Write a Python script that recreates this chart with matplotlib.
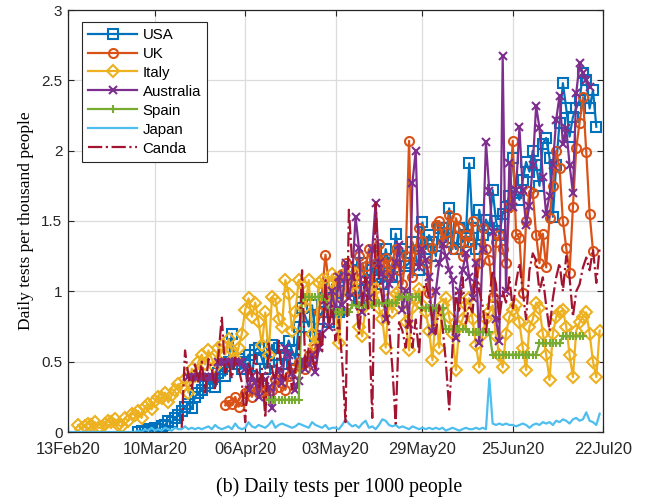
import numpy as np
import pandas as pd
import matplotlib
matplotlib.use("Agg")
import matplotlib.pyplot as plt

# ---------------- data (daily tests per 1000 people) ----------------
japan_start = "2020-02-13"
japan = ([0.0] * 21 +
         [0.01, 0.0, 0.02, 0.01, 0.03, 0.01, 0.02, 0.01, 0.03, 0.02, 0.01, 0.03, 0.02, 0.02, 0.04, 0.02, 0.03, 0.02, 0.03, 0.02] +
         [0.03, 0.04, 0.02, 0.05, 0.03, 0.02, 0.03, 0.04, 0.02, 0.06, 0.03, 0.02, 0.03, 0.07, 0.04, 0.03, 0.05, 0.04, 0.03, 0.05] +
         [0.08, 0.03, 0.05, 0.06, 0.05, 0.04, 0.03, 0.04, 0.06, 0.05, 0.04, 0.03, 0.07, 0.05, 0.04, 0.03, 0.05, 0.02, 0.03, 0.03] +
         [0.02, 0.05, 0.09, 0.06, 0.04, 0.05, 0.03, 0.06, 0.08, 0.03, 0.04, 0.02, 0.05, 0.09, 0.08, 0.05, 0.04, 0.05, 0.03, 0.04] +
         [0.03, 0.02, 0.04, 0.03, 0.02, 0.03, 0.02, 0.03, 0.02, 0.03, 0.02, 0.03, 0.01, 0.02, 0.03, 0.02, 0.01, 0.02, 0.03, 0.02] +
         [0.02, 0.03, 0.02, 0.03, 0.02, 0.38, 0.06, 0.05, 0.06, 0.05, 0.06, 0.05, 0.05, 0.04, 0.05, 0.06, 0.05, 0.03, 0.05, 0.06] +
         [0.05, 0.07, 0.06, 0.07, 0.05, 0.08, 0.07, 0.09, 0.08, 0.06, 0.09, 0.10, 0.08, 0.09, 0.14, 0.08, 0.07, 0.05, 0.13])

italy_start = "2020-02-16"
italy = [0.05, 0.02, 0.04, 0.06, 0.05, 0.07, 0.03, 0.03, 0.06, 0.08, 0.07, 0.09, 0.05, 0.04, 0.10,
         0.08, 0.13, 0.12, 0.15, 0.10, 0.18, 0.20, 0.16, 0.22, 0.25, 0.24, 0.28, 0.21, 0.26,
         0.30, 0.34, 0.31, 0.38, 0.28, 0.45, 0.40, 0.50, 0.55, 0.48, 0.58, 0.52, 0.46, 0.60,
         0.62, 0.55, 0.66, 0.58, 0.52, 0.60, 0.70, 0.87, 0.95, 0.82, 0.92, 0.78, 0.62, 0.85,
         0.55, 0.96, 0.94, 0.80, 0.75, 1.08, 0.98, 0.72, 0.85, 1.08, 1.05, 0.89, 1.08, 0.70,
         0.62, 1.06, 1.08, 0.95, 1.06, 1.12, 0.90, 0.63, 0.95, 1.00, 1.15, 1.05, 1.12, 0.75,
         0.68, 0.90, 1.00, 0.95, 1.02, 0.88, 0.80, 0.60, 0.95, 0.85, 0.98, 1.00, 0.92, 0.78,
         0.58, 0.88, 0.95, 1.02, 0.90, 0.85, 0.72, 0.51, 0.85, 0.60, 0.90, 0.95, 0.82, 0.70,
         0.44, 0.75, 0.80, 0.90, 0.95, 0.80, 0.62, 0.46, 0.70, 0.80, 0.85, 0.90, 0.68, 0.55,
         0.46, 0.70, 0.82, 0.87, 0.90, 0.78, 0.60, 0.44, 0.75, 0.80, 0.92, 0.88, 0.70, 0.55,
         0.37, 0.70, 0.82, 0.85, 0.87, 0.75, 0.55, 0.39, 0.72, 0.78, 0.82, 0.85, 0.70, 0.50,
         0.39, 0.72]

usa_start = "2020-03-05"
usa = [0.0, 0.01, 0.0, 0.02, 0.01, 0.03, 0.02,
       0.04, 0.05, 0.08, 0.07, 0.10, 0.12, 0.15,
       0.18, 0.20, 0.17, 0.25, 0.28, 0.30, 0.33,
       0.35, 0.38, 0.32, 0.42, 0.45, 0.40, 0.50,
       0.70, 0.48, 0.52, 0.45, 0.50, 0.55, 0.40,
       0.58, 0.60, 0.52, 0.45, 0.50, 0.62, 0.55,
       0.60, 0.48, 0.55, 0.65, 0.58, 0.52, 0.75,
       0.88, 0.82, 0.75, 0.90, 0.68, 0.80, 0.85,
       0.95, 0.78, 1.05, 0.92, 0.85, 1.00, 1.10,
       1.05, 1.15, 1.00, 0.95, 1.20, 1.08, 1.00,
       1.15, 1.25, 1.10, 1.05, 1.30, 1.20, 1.10,
       1.41, 1.25, 1.30, 1.18, 1.20, 1.35, 1.25,
       1.15, 1.49, 1.30, 1.40, 1.35, 1.25, 1.45,
       1.45, 1.35, 1.59, 1.38, 1.30, 1.45, 1.35,
       1.40, 1.91, 1.45, 1.30, 1.58, 1.40, 1.51,
       1.45, 1.72, 1.50, 1.40, 1.55, 1.60, 1.68,
       1.95, 1.70, 1.65, 1.79, 1.92, 1.85, 2.00,
       1.90, 1.75, 2.05, 2.09, 1.95, 1.53, 1.90,
       2.20, 2.48, 2.30, 2.10, 2.24, 2.30, 2.36,
       2.55, 2.50, 2.30, 2.43, 2.17]

uk_start = "2020-03-31"
uk = [0.19, 0.22, 0.20, 0.25, 0.18, 0.22, 0.28,
      0.30, 0.25, 0.32, 0.28, 0.35, 0.30, 0.26,
      0.30, 0.38, 0.32, 0.35, 0.30, 0.40, 0.45,
      0.42, 0.50, 0.48, 0.45, 0.55, 0.52, 0.60,
      0.85, 1.00, 1.26, 1.05, 0.95, 1.10, 1.00,
      1.12, 1.20, 1.05, 1.15, 1.00, 1.25, 1.10,
      1.18, 1.30, 1.05, 1.20, 1.34, 1.15, 1.24,
      1.10, 1.20, 1.30, 1.15, 1.05, 1.25, 2.07,
      1.10, 1.30, 1.45, 1.36, 1.20, 0.99, 1.31,
      1.47, 1.50, 1.35, 1.42, 1.54, 1.30, 1.52,
      1.45, 1.25, 1.40, 1.35, 1.50, 1.03, 1.20,
      1.45, 1.30, 1.22, 0.96, 1.35, 1.40, 1.30,
      1.20, 1.60, 2.07, 1.41, 1.38, 0.99,
      1.50, 1.71, 1.70, 1.40, 1.20, 1.41, 1.17, 1.52, 1.75, 2.00, 1.88,
      1.50, 1.31, 1.13, 1.60, 2.02, 2.20, 2.38, 1.99, 1.55, 1.29]

australia_start = "2020-03-20"
australia = [0.39, 0.39, 0.39, 0.39, 0.39, 0.39, 0.39, 0.39, 0.39,
             0.50, 0.50, 0.50, 0.50, 0.50, 0.50, 0.50, 0.50,
             0.45, 0.30, 0.40, 0.35, 0.25, 0.40, 0.37, 0.32, 0.17, 0.40,
             0.45, 0.35, 0.60, 0.55, 0.42, 0.30, 0.36, 0.51, 0.45, 0.48,
             0.55, 0.43, 0.60, 0.70, 0.94, 0.75, 1.00, 0.85, 1.10,
             0.90, 1.20, 0.95, 1.10, 1.53, 1.31, 0.85, 1.08, 0.95, 1.30,
             1.63, 1.20, 1.12, 0.80, 1.05, 1.10, 1.20, 1.33, 0.87, 1.00,
             0.77, 1.77, 2.00, 1.17, 1.30, 1.22, 1.10, 0.72, 1.00, 1.20,
             1.34, 1.25, 1.15, 1.08, 0.67, 1.00, 1.15, 1.27,
             1.10, 0.95, 1.20, 0.63, 1.30, 2.06, 1.71,
             1.42, 0.80, 0.65, 2.67, 1.00, 1.91, 1.60,
             1.72, 2.17, 1.72, 1.47, 1.61, 1.90, 2.32,
             2.16, 1.81, 1.55, 1.68, 1.90, 2.22, 2.39,
             2.05, 2.16, 1.90, 1.70, 2.41, 2.62, 2.55,
             2.50, 2.45]

spain_start = "2020-04-13"
spain = ([0.23] * 10 + [0.96] * 8 + [0.85] * 7 + [0.90] * 7 + [0.92] * 7 +
         [0.96] * 7 + [0.88] * 7 + [0.73] * 7 + [0.71] * 7 + [0.55] * 14 +
         [0.63] * 7 + [0.68] * 7)

canada_start = "2020-03-18"
canada = [0.03, 0.58, 0.40, 0.30, 0.48, 0.35, 0.50, 0.28, 0.52,
          0.45, 0.30, 0.55, 0.82, 0.42, 0.50, 0.38,
          0.53, 0.45, 0.35, 0.07, 0.50, 0.40, 0.55,
          0.30, 0.45, 0.10, 0.63, 0.45, 0.35, 0.65,
          0.40, 0.37, 0.50, 0.30, 0.45, 0.55, 1.15,
          0.44, 0.60, 0.53, 0.45, 0.70, 0.58, 1.08,
          0.74, 0.90, 0.65, 0.80, 0.50, 0.07, 1.58,
          1.20, 1.00, 0.70, 0.95, 1.10, 0.80, 0.10,
          1.63, 1.10, 0.95, 0.87, 0.75, 0.46, 0.06,
          0.78, 0.72, 0.60, 0.85, 0.60, 0.80, 0.55,
          1.00, 1.06, 0.95, 0.80, 0.70, 0.90, 0.75,
          0.50, 0.16, 0.60, 0.99, 0.85, 1.10, 0.77,
          0.90, 0.85, 1.17, 1.00, 0.90, 0.70, 0.95,
          1.15, 1.05, 0.80, 1.00, 0.92, 1.10, 0.87,
          1.06, 1.20, 1.00, 0.80, 1.15, 1.27, 1.22,
          1.00, 1.10, 0.90, 0.72, 0.95, 1.10, 1.20,
          1.00, 1.25, 1.10, 0.82, 1.00, 1.05, 1.17,
          1.24, 1.15, 1.30, 1.06, 1.31]

series_names = ["USA", "UK", "Italy", "Australia", "Spain", "Japan", "Canda"]
xtick_dates = ["2020-02-13", "2020-03-10", "2020-04-06", "2020-05-03",
               "2020-05-29", "2020-06-25", "2020-07-22"]
ytick_vals = [0, 0.5, 1, 1.5, 2, 2.5, 3]
ytick_labels = ["0", "0.5", "1", "1.5", "2", "2.5", "3"]
ylabel_text = "Daily tests per thousand people"
caption_text = "(b) Daily tests per 1000 people"

# ---------------- plotting ----------------
def dates_for(start, vals):
    return pd.date_range(start, periods=len(vals), freq="D")

fig = plt.figure(figsize=(6.52, 5.01), dpi=100)
ax = fig.add_axes([68 / 652, 1 - 432 / 501, 535 / 652, 422 / 501])

lw = 1.6
ms = 6.5
mew = 1.5
specs = [
    (usa_start, usa, "#0072BD", "s", "-"),
    (uk_start, uk, "#D95319", "o", "-"),
    (italy_start, italy, "#EDB120", "D", "-"),
    (australia_start, australia, "#7E2F8E", "x", "-"),
    (spain_start, spain, "#77AC30", "+", "-"),
    (japan_start, japan, "#4DBEEE", None, "-"),
    (canada_start, canada, "#A2142F", None, "-."),
]
for (start, vals, color, marker, ls), name in zip(specs, series_names):
    d = dates_for(start, vals)
    msz = ms
    if marker in ("D", "x", "+"):
        msz = ms * 0.95
    ax.plot(d, vals, color=color, marker=marker, linestyle=ls, linewidth=lw,
            markersize=msz, markerfacecolor="none", markeredgewidth=mew,
            label=name)

ax.set_xlim(pd.Timestamp("2020-02-13"), pd.Timestamp("2020-07-22"))
ax.set_ylim(0, 3)
xt = pd.to_datetime(xtick_dates)
ax.set_xticks(xt)
ax.set_xticklabels([t.strftime("%d%b%y") for t in xt], fontsize=11.8,
                   family="Liberation Sans")
ax.set_yticks(ytick_vals)
ax.set_yticklabels(ytick_labels, fontsize=11, family="Liberation Sans")
ax.tick_params(direction="in", top=True, right=True, length=4, width=0.8,
               colors="#262626")
ax.tick_params(axis="x", pad=7)
ax.tick_params(axis="y", pad=4)
ax.grid(True, color="#dcdcdc", linewidth=0.9)
ax.set_axisbelow(True)
for s in ax.spines.values():
    s.set_color("#262626")
    s.set_linewidth(0.9)

ax.set_ylabel(ylabel_text, fontsize=12.5, family="Liberation Serif", labelpad=5)

leg = ax.legend(loc="upper left", bbox_to_anchor=(0.026, 0.972),
                borderaxespad=0,
                prop={"family": "Liberation Sans", "size": 10.8},
                handlelength=3.3, handletextpad=0.35, labelspacing=0.33,
                borderpad=0.4, fancybox=False, framealpha=1, edgecolor="#262626")
leg.get_frame().set_linewidth(0.8)

fig.text(0.52, 1 - 487 / 501, caption_text, ha="center", va="center",
         fontsize=14.3, family="Liberation Serif")

fig.savefig("out.png", dpi=100)
